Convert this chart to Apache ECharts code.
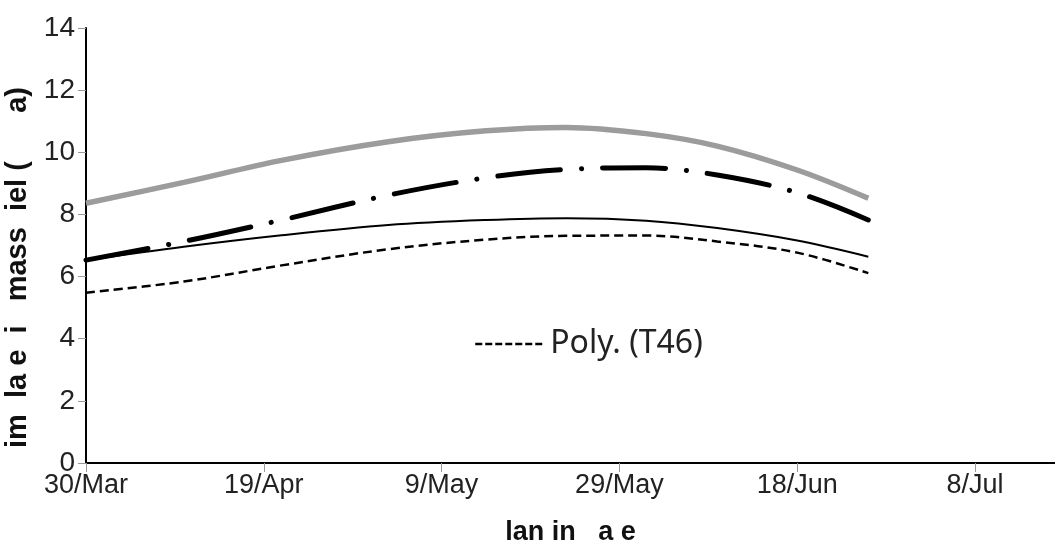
<!DOCTYPE html>
<html>
<head>
<meta charset="utf-8">
<script src="https://cdn.jsdelivr.net/npm/echarts@6/dist/echarts.min.js"></script>
<style>html,body{margin:0;padding:0;background:#fff}#c{width:1055px;height:548px}</style>
</head>
<body>
<div id="c"></div>
<script>
// Day offsets from 30/Mar
const days = [0, 11, 22, 34, 45, 54, 63, 71, 80, 88];
const seriesGrey    = [8.36, 9.03, 9.74, 10.34, 10.69, 10.80, 10.60, 10.20, 9.43, 8.52];
const seriesDashDot = [6.53, 7.13, 7.82, 8.62, 9.18, 9.45, 9.50, 9.27, 8.70, 7.82];
const seriesSolid   = [6.53, 6.96, 7.33, 7.66, 7.82, 7.88, 7.80, 7.56, 7.16, 6.64];
const seriesT46     = [5.48, 5.84, 6.36, 6.88, 7.19, 7.31, 7.32, 7.13, 6.77, 6.11];
const xTicks = [0, 20, 40, 60, 80, 100];
const months = ['Jan','Feb','Mar','Apr','May','Jun','Jul','Aug','Sep','Oct','Nov','Dec'];

function pairs(vals) { return days.map((d, i) => [d, vals[i]]); }
function fmtDay(v) {
  const d = new Date(2009, 2, 30 + v);
  return d.getDate() + '/' + months[d.getMonth()];
}

const chart = echarts.init(document.getElementById('c'), null, {renderer: 'canvas'});
chart.setOption({
  animation: false,
  backgroundColor: '#fff',
  grid: {left: 86, right: 0, top: 28, bottom: 85, containLabel: false, outerBoundsMode: 'none'},
  legend: {
    data: ['Poly. (T46)'],
    left: 469, top: 323,
    itemWidth: 70, itemHeight: 14, itemGap: 8,
    itemStyle: {opacity: 0},
    lineStyle: {color: '#000', width: 2.5, type: [7, 3]},
    textStyle: {fontFamily: 'Noto Sans', fontSize: 32, color: '#222'}
  },
  xAxis: {
    type: 'value', min: 0, max: 109, interval: 20,
    axisLine: {lineStyle: {color: '#000', width: 2}},
    axisTick: {customValues: xTicks, length: 9, lineStyle: {color: '#999'}},
    axisLabel: {customValues: xTicks, formatter: fmtDay, margin: 9, fontFamily: 'Liberation Sans', fontSize: 27, color: '#222'},
    splitLine: {show: false},
    name: 'lan in   a e', nameLocation: 'middle', nameGap: 56,
    nameTextStyle: {fontFamily: 'Liberation Sans', fontWeight: 'bold', fontSize: 27, color: '#111'}
  },
  yAxis: {
    type: 'value', min: 0, max: 14, interval: 2,
    axisLine: {show: true, lineStyle: {color: '#000', width: 2}},
    axisTick: {show: true, length: 8, lineStyle: {color: '#999'}},
    axisLabel: {margin: 11, fontFamily: 'Liberation Sans', fontSize: 28, color: '#222'},
    splitLine: {show: false},
    name: 'im  la e  i   mass  iel (      a)', nameLocation: 'middle', nameGap: 47, nameRotate: 90,
    nameTextStyle: {fontFamily: 'Liberation Sans', fontWeight: 'bold', fontSize: 29, color: '#111', padding: [0, 44, 0, 0]}
  },
  series: [
    {name: 'Grey', type: 'line', data: pairs(seriesGrey), smooth: 0.35, symbol: 'none',
     lineStyle: {color: '#9c9c9c', width: 5.5}},
    {name: 'DashDot', type: 'line', data: pairs(seriesDashDot), smooth: 0.35, symbol: 'none',
     lineStyle: {color: '#000', width: 5, type: [63, 21, 0.1, 21], cap: 'round'}},
    {name: 'Solid', type: 'line', data: pairs(seriesSolid), smooth: 0.35, symbol: 'none',
     lineStyle: {color: '#000', width: 2}},
    {name: 'Poly. (T46)', type: 'line', data: pairs(seriesT46), smooth: 0.35, symbol: 'none',
     itemStyle: {color: '#000'},
     lineStyle: {color: '#000', width: 2.5, type: [9, 5]}}
  ]
});
</script>
</body>
</html>
